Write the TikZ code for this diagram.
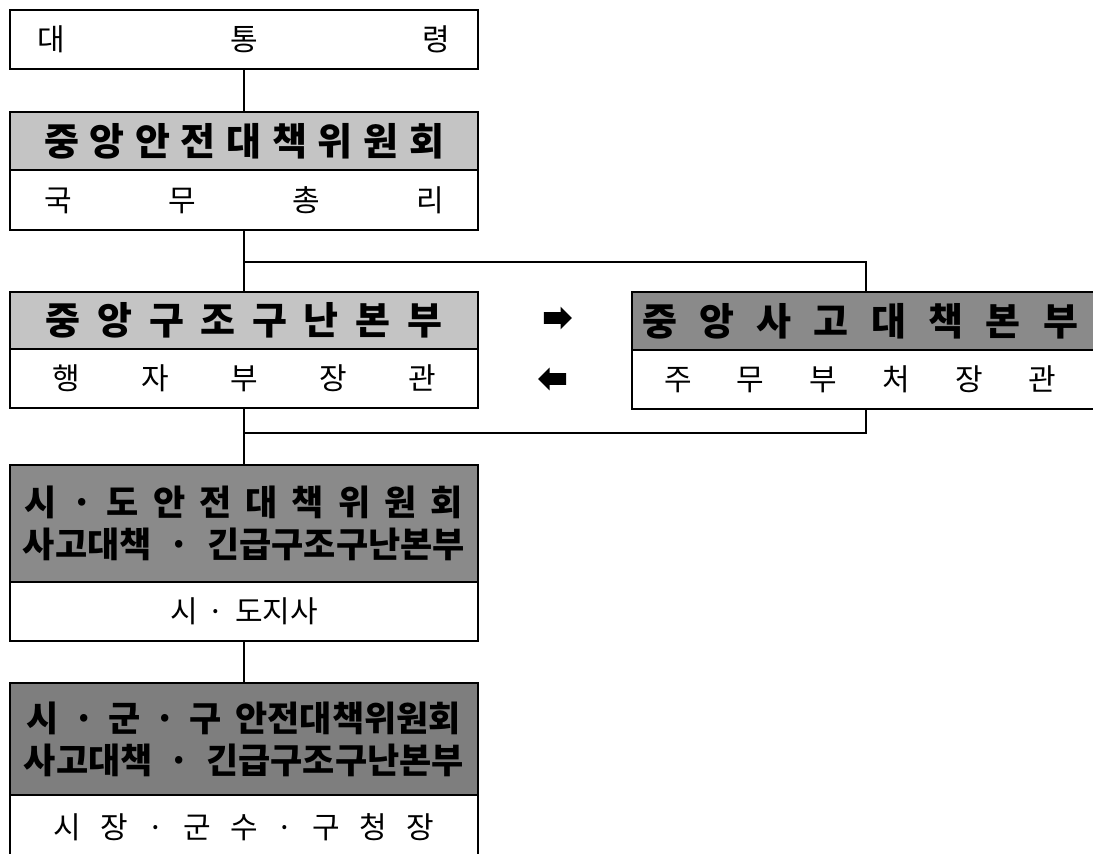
\documentclass[tikz,border=0pt]{standalone}
\usepackage{fontspec}
\newfontfamily\kr{Noto Sans CJK KR}
\usetikzlibrary{shapes.arrows}
\definecolor{hdrlight}{HTML}{C4C4C4}
\definecolor{hdrdark}{HTML}{8A8A8A}
\definecolor{hdrdarker}{HTML}{7E7E7E}
\tikzset{
  boxbase/.style={draw=black, line width=1pt, minimum width=234pt, inner sep=0pt, anchor=center},
  hdr/.style={boxbase, font=\kr\bfseries\fontsize{19}{22}\selectfont},
  hdrtwo/.style={boxbase, align=center, font=\kr\bfseries\fontsize{17.5}{21}\selectfont},
  low/.style={boxbase, fill=white, font=\kr\fontsize{15}{18}\selectfont},
  conn/.style={draw=black, line width=0.75pt},
  blockarrow/.style={single arrow, fill=black, draw=none, minimum height=14pt, inner sep=2.7pt, single arrow head extend=2.8pt, single arrow tip angle=90}
}
\begin{document}
\begin{tikzpicture}[x=0.5pt, y=-0.5pt]
\useasboundingbox (0,0) rectangle (1093,853);
% box 1
\node[low, minimum height=29.5pt] (b1) at (244,39.5) {\makebox[206pt]{대\hfill 통\hfill 령}};
% box 2
\node[hdr, fill=hdrlight, minimum height=29pt] (h2) at (244,141) {\makebox[200pt]{중\hfill 앙\hfill 안\hfill 전\hfill 대\hfill 책\hfill 위\hfill 원\hfill 회}};
\node[low, minimum height=30pt] (l2) at (244,200) {\makebox[200pt]{국\hfill 무\hfill 총\hfill 리}};
% box 3
\node[hdr, fill=hdrlight, minimum height=28.5pt] (h3) at (244,320.5) {\makebox[198pt]{중\hfill 앙\hfill 구\hfill 조\hfill 구\hfill 난\hfill 본\hfill 부}};
\node[low, minimum height=29.5pt] (l3) at (244,378.5) {\makebox[192pt]{행\hfill 자\hfill 부\hfill 장\hfill 관}};
% box 4
\node[hdr, fill=hdrdark, minimum height=29pt, minimum width=240pt] (h4) at (872,321) {\hspace{-12pt}\makebox[218pt]{중\hfill 앙\hfill 사\hfill 고\hfill 대\hfill 책\hfill 본\hfill 부}};
\node[low, minimum height=29.5pt, minimum width=240pt] (l4) at (872,379.5) {\hspace{-12pt}\makebox[196pt]{주\hfill 무\hfill 부\hfill 처\hfill 장\hfill 관}};
% arrows
\node[blockarrow] (ar) at (555,318) {};
\node[blockarrow, shape border rotate=180] (al) at (555,379) {};
% box 5
\node[hdrtwo, fill=hdrdark, minimum height=58.5pt] (h5) at (244,523.5) {\makebox[219pt]{시\hfill ·\hfill 도\hfill 안\hfill 전\hfill 대\hfill 책\hfill 위\hfill 원\hfill 회}\\\makebox[221pt]{사고대책\hfill ·\hfill 긴급구조구난본부}};
\node[low, minimum height=29.5pt] (l5) at (244,611.5) {\makebox[74pt]{시\hfill ·\hfill 도지사}};
% box 6
\node[hdrtwo, fill=hdrdarker, minimum height=56pt] (h6) at (244,739) {\makebox[217pt]{시\hfill ·\hfill 군\hfill ·\hfill 구\hfill 안전대책위원회}\\\makebox[220pt]{사고대책\hfill ·\hfill 긴급구조구난본부}};
\node[low, minimum height=32.5pt] (l6) at (244,827.5) {\makebox[190pt]{시\hfill 장\hfill ·\hfill 군\hfill 수\hfill ·\hfill 구\hfill 청\hfill 장}};
% junctions
\coordinate (j1) at (244,262);
\coordinate (j2) at (866,262);
\coordinate (k1) at (244,433);
\coordinate (k2) at (866,433);
% connectors
\draw[conn] (b1.south) -- (h2.north);
\draw[conn] (l2.south) -- (j1) -- (h3.north);
\draw[conn] (j1) -- (j2) -- (j2 |- h4.north);
\draw[conn] (j2 |- l4.south) -- (k2) -- (k1);
\draw[conn] (l3.south) -- (h5.north);
\draw[conn] (l5.south) -- (h6.north);
\end{tikzpicture}
\end{document}
